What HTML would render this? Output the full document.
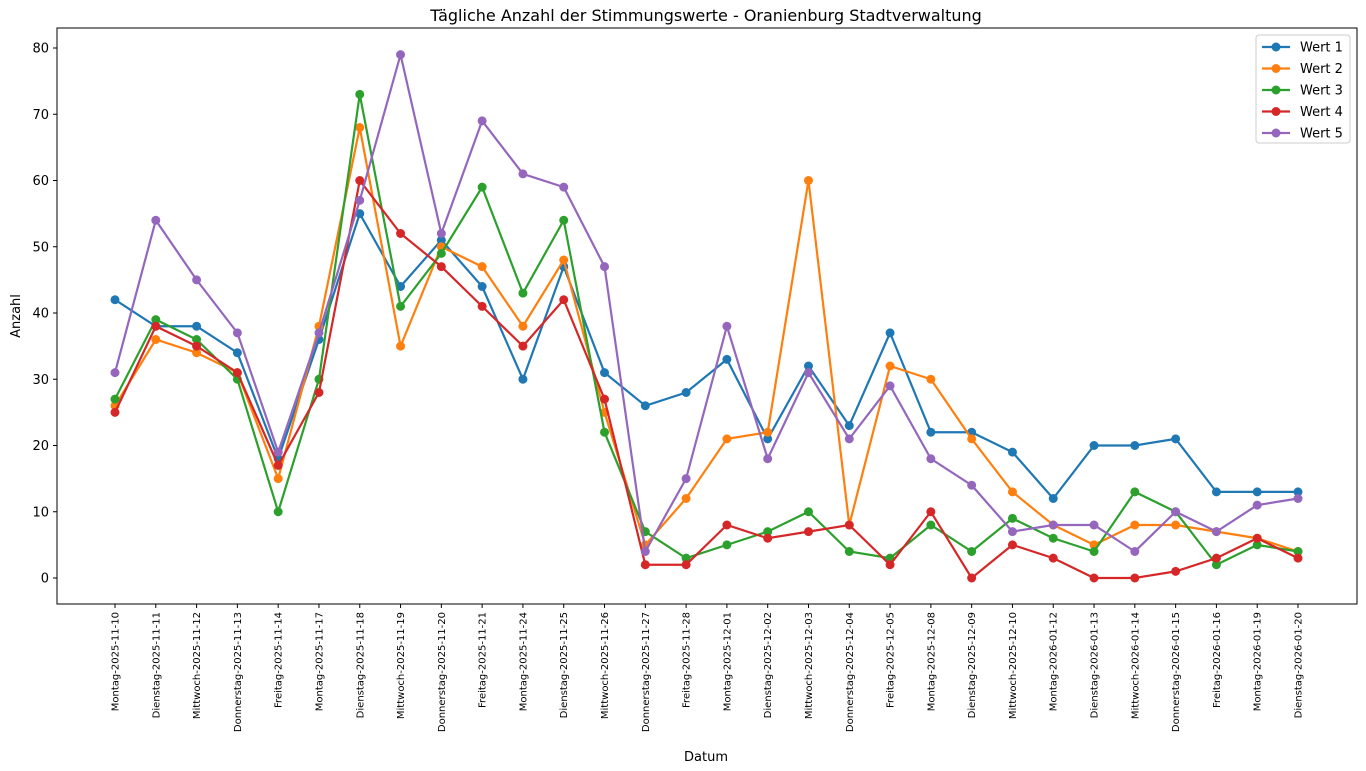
<!DOCTYPE html>
<html><head><meta charset="utf-8"><style>
html,body{margin:0;padding:0;background:#fff;}
svg{display:block;font-family:"DejaVu Sans","Liberation Sans",sans-serif;}
</style></head><body>
<svg id="c" width="1366" height="771" xmlns="http://www.w3.org/2000/svg"></svg>
<script>
const dates=["Montag-2025-11-10","Dienstag-2025-11-11","Mittwoch-2025-11-12","Donnerstag-2025-11-13","Freitag-2025-11-14","Montag-2025-11-17","Dienstag-2025-11-18","Mittwoch-2025-11-19","Donnerstag-2025-11-20","Freitag-2025-11-21","Montag-2025-11-24","Dienstag-2025-11-25","Mittwoch-2025-11-26","Donnerstag-2025-11-27","Freitag-2025-11-28","Montag-2025-12-01","Dienstag-2025-12-02","Mittwoch-2025-12-03","Donnerstag-2025-12-04","Freitag-2025-12-05","Montag-2025-12-08","Dienstag-2025-12-09","Mittwoch-2025-12-10","Montag-2026-01-12","Dienstag-2026-01-13","Mittwoch-2026-01-14","Donnerstag-2026-01-15","Freitag-2026-01-16","Montag-2026-01-19","Dienstag-2026-01-20"];
const S=[
["Wert 1","#1f77b4",[42,38,38,34,18,36,55,44,51,44,30,47,31,26,28,33,21,32,23,37,22,22,19,12,20,20,21,13,13,13]],
["Wert 2","#ff7f0e",[26,36,34,31,15,38,68,35,50,47,38,48,25,5,12,21,22,60,8,32,30,21,13,8,5,8,8,7,6,4]],
["Wert 3","#2ca02c",[27,39,36,30,10,30,73,41,49,59,43,54,22,7,3,5,7,10,4,3,8,4,9,6,4,13,10,2,5,4]],
["Wert 4","#d62728",[25,38,35,31,17,28,60,52,47,41,35,42,27,2,2,8,6,7,8,2,10,0,5,3,0,0,1,3,6,3]],
["Wert 5","#9467bd",[31,54,45,37,19,37,57,79,52,69,61,59,47,4,15,38,18,31,21,29,18,14,7,8,8,4,10,7,11,12]]];
const X=i=>115+i*(1298-115)/29, Y=v=>578-v*6.625;
let h='';
h+='<rect x="57" y="28" width="1300" height="576" fill="none" stroke="#000" stroke-width="1"/>';
h+='<text x="706" y="21" font-size="16" text-anchor="middle">Tägliche Anzahl der Stimmungswerte - Oranienburg Stadtverwaltung</text>';
for(let v=0;v<=80;v+=10){const y=Y(v);h+=`<line x1="53" x2="57" y1="${y}" y2="${y}" stroke="#000"/><text x="49" y="${y+4.5}" font-size="13" text-anchor="end">${v}</text>`;}
h+='<text transform="translate(20,316) rotate(-90)" font-size="13" text-anchor="middle">Anzahl</text>';
h+='<text x="706" y="761" font-size="13" text-anchor="middle">Datum</text>';
dates.forEach((d,i)=>{const x=X(i);h+=`<line x1="${x}" x2="${x}" y1="604" y2="608" stroke="#000"/><text transform="translate(${x+3.5},612) rotate(-90)" font-size="10" text-anchor="end">${d}</text>`;});
S.forEach(([n,c,d])=>{h+=`<polyline fill="none" stroke="${c}" stroke-width="2.2" points="${d.map((v,i)=>X(i)+','+Y(v)).join(' ')}"/>`;d.forEach((v,i)=>h+=`<circle cx="${X(i)}" cy="${Y(v)}" r="4.5" fill="${c}"/>`);});
h+='<rect x="1256" y="35" width="94" height="108" rx="3" fill="#fff" fill-opacity="0.8" stroke="#ccc"/>';
S.forEach(([n,c],k)=>{const y=47+k*21.5;h+=`<line x1="1262" x2="1290" y1="${y}" y2="${y}" stroke="${c}" stroke-width="2.2"/><circle cx="1276" cy="${y}" r="4.5" fill="${c}"/><text x="1300" y="${y+4.5}" font-size="13">${n}</text>`;});
document.getElementById('c').innerHTML=h;
</script>
</body></html>
